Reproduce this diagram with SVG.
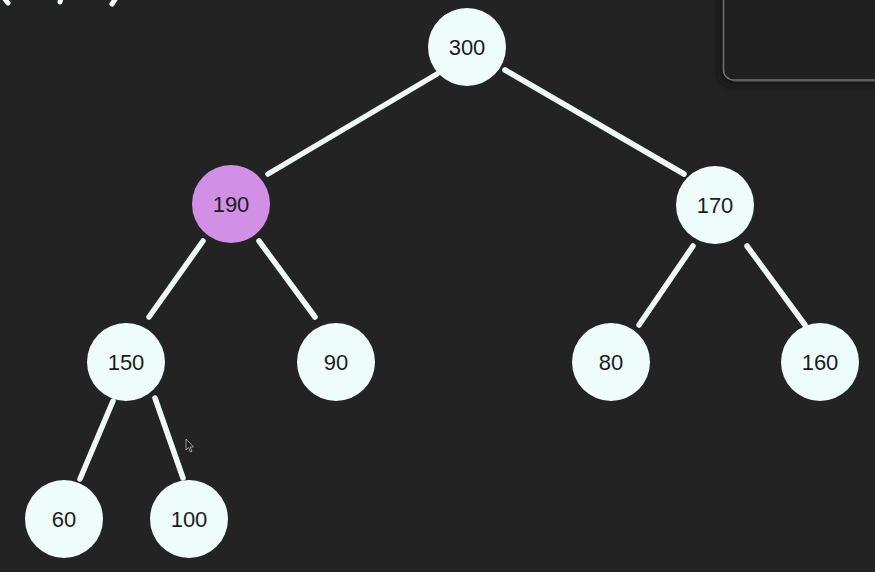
<svg xmlns="http://www.w3.org/2000/svg" width="875" height="572" viewBox="0 0 875 572">
<defs>
<style>
.n circle{fill:#eefcfc;}
.n.hl circle{fill:#d18fe6;}
.n text{font-family:"Liberation Sans",Arial,sans-serif;font-size:22px;fill:#1c1c1c;text-anchor:middle;dominant-baseline:central;}
#edges line{stroke:#eef8f6;stroke-width:5.5;stroke-linecap:round;}
.mark{stroke:#f4fbfb;stroke-width:5;stroke-linecap:round;}
</style>
<filter id="sh" x="-20%" y="-50%" width="140%" height="200%"><feGaussianBlur stdDeviation="3"/></filter>
</defs>
<rect width="875" height="572" fill="#232323"/>
<line class="mark" x1="4" y1="-2" x2="8" y2="3"/>
<line class="mark" x1="61" y1="-2" x2="60" y2="2"/>
<line class="mark" x1="116" y1="-2" x2="112" y2="4"/>
<rect x="718" y="-20" width="170" height="106" rx="12" fill="#111" opacity="0.6" filter="url(#sh)"/>
<rect x="723.5" y="-20" width="165" height="100" rx="10" fill="#1f1f1f" stroke="#6f7373" stroke-width="1.5"/>
<line x1="733" y1="80.5" x2="875" y2="80.5" stroke="#5d6161" stroke-width="2"/>
<g id="edges">
<line x1="437" y1="74" x2="268" y2="174"/>
<line x1="505" y1="70" x2="684" y2="174"/>
<line x1="203" y1="241" x2="149" y2="317"/>
<line x1="259" y1="241" x2="315" y2="317"/>
<line x1="693" y1="246" x2="639" y2="325"/>
<line x1="747" y1="246" x2="805" y2="325"/>
<line x1="113" y1="401" x2="80" y2="479"/>
<line x1="155" y1="398" x2="183" y2="478"/>
</g>
<g id="n300" class="n"><circle cx="467" cy="47" r="39"/><text x="467" y="47">300</text></g>
<g id="n190" class="n hl"><circle cx="231" cy="204" r="39"/><text x="231" y="204">190</text></g>
<g id="n170" class="n"><circle cx="715" cy="205" r="39"/><text x="715" y="205">170</text></g>
<g id="n150" class="n"><circle cx="126" cy="362" r="39"/><text x="126" y="362">150</text></g>
<g id="n90" class="n"><circle cx="336" cy="362" r="39"/><text x="336" y="362">90</text></g>
<g id="n80" class="n"><circle cx="611" cy="362" r="39"/><text x="611" y="362">80</text></g>
<g id="n160" class="n"><circle cx="820" cy="362" r="39"/><text x="820" y="362">160</text></g>
<g id="n60" class="n"><circle cx="64" cy="519" r="39"/><text x="64" y="519">60</text></g>
<g id="n100" class="n"><circle cx="189" cy="519" r="39"/><text x="189" y="519">100</text></g>
<path d="M186,439 L186,450 L188.5,447.5 L190.5,452 L192,451.3 L190,447 L193.5,447 Z" fill="#1a1a1a" stroke="#bbb" stroke-width="0.8"/>
</svg>
